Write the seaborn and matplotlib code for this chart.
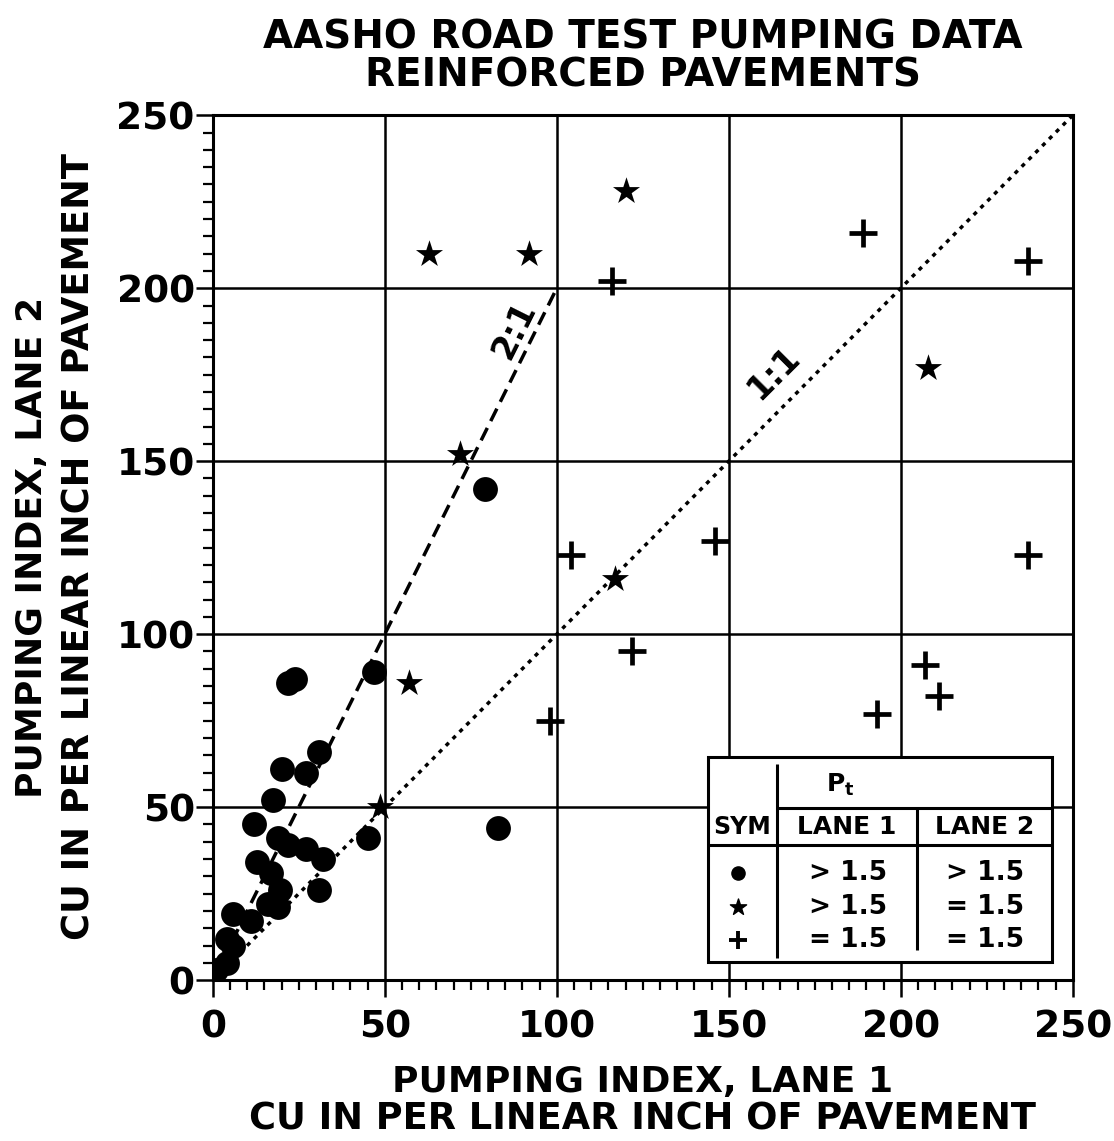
import numpy as np
import pandas as pd
import matplotlib
matplotlib.use("Agg")
import matplotlib.pyplot as plt
import matplotlib.patches as mpatches
import seaborn as sns

# ---------------- data ----------------
circle_x = [22, 24, 47, 31, 20, 27, 17.5, 12, 19, 22, 27, 32, 31, 45, 13, 17, 19.5, 16, 19, 6, 11, 4, 6, 4, 1, 79, 83]
circle_y = [86, 87, 89, 66, 61, 60, 52, 45, 41, 39, 38, 35, 26, 41, 34, 31, 26, 22, 21, 19, 17, 12, 10, 5, 3, 142, 44]

star_x = [63, 92, 120, 72, 57, 48.5, 117, 208]
star_y = [210, 210, 228, 152, 86, 50, 116, 177]

plus_x = [116, 189, 237, 104, 146, 237, 122, 98, 193, 207, 211]
plus_y = [202, 216, 208, 123, 127, 123, 95, 75, 77, 91, 82]

ref_21_x = [0, 100]
ref_21_y = [0, 200]
ref_11_x = [0, 250]
ref_11_y = [0, 250]

ticks = [0, 50, 100, 150, 200, 250]
title_lines = ["AASHO ROAD TEST PUMPING DATA", "REINFORCED PAVEMENTS"]
xlabel_lines = ["PUMPING INDEX, LANE 1", "CU IN PER LINEAR INCH OF PAVEMENT"]
ylabel_lines = ["PUMPING INDEX, LANE 2", "CU IN PER LINEAR INCH OF PAVEMENT"]
legend_cols = ["SYM", "LANE 1", "LANE 2"]
legend_lane1 = ["> 1.5", "> 1.5", "= 1.5"]
legend_lane2 = ["> 1.5", "= 1.5", "= 1.5"]

# ---------------- style ----------------
sns.set_style("white")
plt.rcParams['font.family'] = ['DejaVu Sans']
plt.rcParams['font.weight'] = 'bold'
plt.rcParams['text.color'] = 'black'
plt.rcParams['axes.labelcolor'] = 'black'
plt.rcParams['xtick.color'] = 'black'
plt.rcParams['ytick.color'] = 'black'
plt.rcParams['mathtext.fontset'] = 'custom'
plt.rcParams['mathtext.rm'] = 'DejaVu Sans:bold'
plt.rcParams['mathtext.bf'] = 'DejaVu Sans:bold'
plt.rcParams['mathtext.it'] = 'DejaVu Sans:bold'

fig = plt.figure(figsize=(11.14, 11.41), dpi=100)
ax = fig.add_axes([0.191, 0.141, 0.772, 0.758])

df_c = pd.DataFrame({"x": circle_x, "y": circle_y})
df_s = pd.DataFrame({"x": star_x, "y": star_y})
df_p = pd.DataFrame({"x": plus_x, "y": plus_y})

sns.scatterplot(data=df_c, x="x", y="y", marker="o", s=320, color="black",
                edgecolor="black", linewidth=0, ax=ax, zorder=5)
sns.scatterplot(data=df_s, x="x", y="y", marker="*", s=420, color="black",
                edgecolor="black", linewidth=0, ax=ax, zorder=5)
sns.scatterplot(data=df_p, x="x", y="y", marker="+", s=380, color="black",
                linewidth=3.4, ax=ax, zorder=5)

sns.lineplot(x=ref_21_x, y=ref_21_y, ax=ax, color="black", lw=2.5,
             linestyle=(0, (4, 2.2)), zorder=3)
sns.lineplot(x=ref_11_x, y=ref_11_y, ax=ax, color="black", lw=2.5,
             linestyle=(0, (1.2, 1.6)), zorder=3)

ax.text(87.5, 188, "2:1", rotation=63.5, fontsize=24, fontweight='bold',
        ha='center', va='center', zorder=4)
ax.text(163, 175.5, "1:1", rotation=45, fontsize=24, fontweight='bold',
        ha='center', va='center', zorder=4)

ax.set_xlim(0, 250)
ax.set_ylim(0, 250)
ax.set_xticks(ticks)
ax.set_yticks(ticks)
ax.set_xticks(np.arange(0, 251, 5), minor=True)
ax.set_yticks(np.arange(0, 251, 5), minor=True)
ax.grid(True, which='major', color='black', lw=1.8, zorder=1)
ax.set_axisbelow(True)
for sp in ax.spines.values():
    sp.set_visible(True)
    sp.set_color('black')
    sp.set_linewidth(2.2)
ax.tick_params(axis='both', which='major', length=12, width=1.8, direction='out',
               labelsize=27, bottom=True, left=True, colors='black')
ax.tick_params(axis='x', which='major', pad=9)
ax.tick_params(axis='y', which='major', pad=1)
ax.tick_params(axis='both', which='minor', length=7, width=1.6, direction='out',
               bottom=True, left=True, colors='black')
for lab in ax.get_xticklabels() + ax.get_yticklabels():
    lab.set_fontweight('bold')
ax.set_xlabel("")
ax.set_ylabel("")

# axis labels & title
fig.text(0.577, 0.052, xlabel_lines[0], ha='center', va='center', fontsize=26, fontweight='bold')
fig.text(0.577, 0.019, xlabel_lines[1], ha='center', va='center', fontsize=26.5, fontweight='bold')
fig.text(0.029, 0.5206, ylabel_lines[0], ha='center', va='center', fontsize=26,
         fontweight='bold', rotation=90)
fig.text(0.071, 0.5206, ylabel_lines[1], ha='center', va='center', fontsize=26.5,
         fontweight='bold', rotation=90)
fig.text(0.577, 0.967, title_lines[0], ha='center', va='center', fontsize=28, fontweight='bold')
fig.text(0.577, 0.934, title_lines[1], ha='center', va='center', fontsize=28, fontweight='bold')

# ---------------- legend table ----------------
bx0, bx1, by0, by1 = 143.9, 243.9, 5.2, 64.5
ax.add_patch(mpatches.Rectangle((bx0, by0), bx1 - bx0, by1 - by0, facecolor='white',
                                edgecolor='black', lw=2.2, zorder=6))
lkw = dict(color='black', lw=2.2, zorder=7, solid_capstyle='butt')
ax.plot([164.0, 164.0], [6.4, 62.5], **lkw)
ax.plot([164.0, bx1], [49.7, 49.7], **lkw)
ax.plot([bx0, bx1], [39.0, 39.0], **lkw)
ax.plot([204.7, 204.7], [8.7, 49.7], **lkw)

tkw = dict(ha='center', va='center', fontweight='bold', zorder=8)
ax.text(182.5, 56.5, r"P$_\mathregular{t}$", fontsize=18, **tkw)
ax.text(153.9, 44.3, legend_cols[0], fontsize=17, **tkw)
ax.text(184.3, 44.3, legend_cols[1], fontsize=18, **tkw)
ax.text(224.4, 44.3, legend_cols[2], fontsize=18, **tkw)
row_y = [30.9, 21.1, 11.6]
for yv, a, b in zip(row_y, legend_lane1, legend_lane2):
    ax.text(184.6, yv, a, fontsize=19, **tkw)
    ax.text(224.4, yv, b, fontsize=19, **tkw)
ax.scatter([152.6], [row_y[0]], marker='o', s=90, color='black', zorder=8)
ax.scatter([152.6], [row_y[1]], marker='*', s=150, color='black', zorder=8)
ax.scatter([152.6], [row_y[2]], marker='+', s=170, color='black', linewidths=2.8, zorder=8)

fig.savefig("out.png", dpi=100)
